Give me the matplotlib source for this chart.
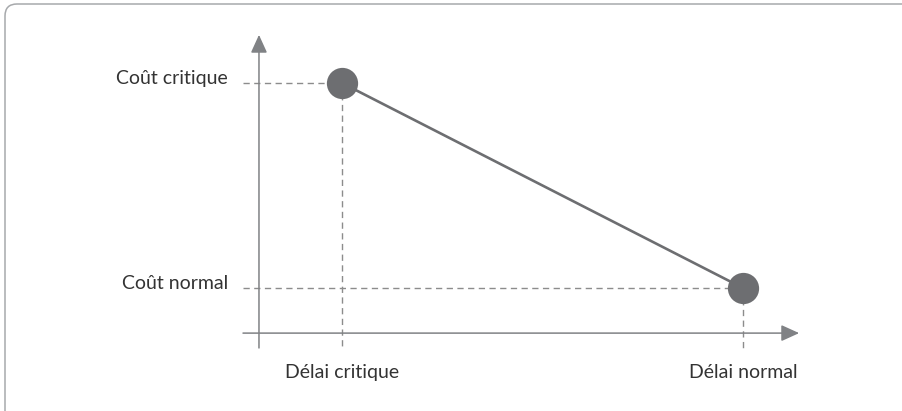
import matplotlib.pyplot as plt
from matplotlib.patches import FancyBboxPatch

# data: two points of the cost / duration trade-off
delais = [3, 8]          # délai critique, délai normal
couts = [6, 2]           # coût critique, coût normal
x_labels = ['Délai critique', 'Délai normal']
y_labels = ['Coût critique', 'Coût normal']

grey = '#6d6e71'
axis_grey = '#808285'
dash_grey = '#8c8c8c'
text_col = '#333333'

plt.rcParams['font.family'] = ['Lato', 'DejaVu Sans']

fig = plt.figure(figsize=(9.03, 4.11), dpi=100)
ax = fig.add_axes([0, 0, 1, 1])
ax.set_xlim(-1.264, 9.995)
ax.set_ylim(-0.40, 7.62)
ax.axis('off')

# rounded frame (only top and left edges show)
frame = FancyBboxPatch((5, -30), 940, 437, boxstyle='round,pad=0,rounding_size=12',
                       transform=None, fill=False, ec='#a7a9ac', lw=1.1)
fig.patches.append(frame)

x0, y0 = 1.965, 1.12       # where the axes cross
x_start, y_start = 1.766, 0.83
x_end, y_end = 8.70, 6.94

# axes with arrow heads
arrow = dict(arrowstyle='-|>,head_length=0.55,head_width=0.25', color=axis_grey,
             lw=1.1, mutation_scale=20, shrinkA=0, shrinkB=0)
ax.annotate('', xy=(x_end, y0), xytext=(x_start, y0), arrowprops=arrow)
ax.annotate('', xy=(x0, y_end), xytext=(x0, y_start), arrowprops=arrow)

# dashed guides
for x, y in zip(delais, couts):
    ax.plot([x_start, x], [y, y], color=dash_grey, lw=1.0, ls=(0, (4.5, 3.2)), zorder=1)
    ax.plot([x, x], [y, y_start], color=dash_grey, lw=1.0, ls=(0, (4.5, 3.2)), zorder=1)

# trade-off line and points
ax.plot(delais, couts, color=grey, lw=1.9, zorder=3)
ax.plot(delais, couts, 'o', color=grey, ms=22.5, mec='none', zorder=4)

for x, lab in zip(delais, x_labels):
    ax.text(x, 0.36, lab, ha='center', va='center', fontsize=14, color=text_col)
for y, lab in zip(couts, y_labels):
    ax.text(1.58, y + 0.09, lab, ha='right', va='center', fontsize=14, color=text_col)

fig.savefig('out.png', dpi=100)
